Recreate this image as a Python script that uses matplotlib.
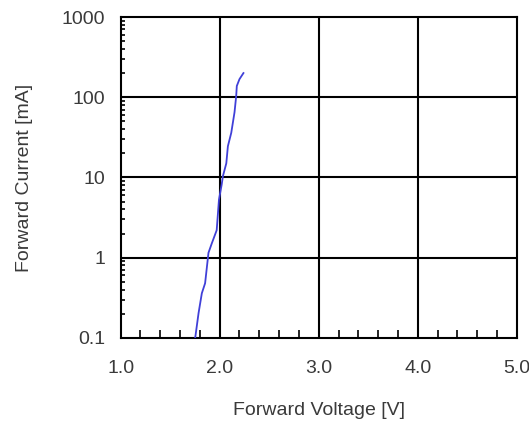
import matplotlib
matplotlib.use('Agg')
import matplotlib.pyplot as plt
from matplotlib.ticker import FixedLocator, LogLocator, NullFormatter

# Datos (V, mA)
voltage = [1.753, 1.787, 1.82, 1.853, 1.887, 1.92, 1.97, 1.993, 2.02, 2.033,
           2.067, 2.083, 2.117, 2.15, 2.167, 2.173, 2.2, 2.24]
current = [0.1, 0.204, 0.36, 0.48, 1.15, 1.5, 2.2, 5.3, 8.1, 10.4,
           15, 24.5, 36, 65, 104, 138, 168, 200]

x_ticks = [1.0, 2.0, 3.0, 4.0, 5.0]
x_labels = ['1.0', '2.0', '3.0', '4.0', '5.0']
y_ticks = [0.1, 1, 10, 100, 1000]
y_labels = ['0.1', '1', '10', '100', '1000']

plt.rcParams['font.family'] = ['Liberation Sans', 'DejaVu Sans']
txt = '#3a3a3a'

fig = plt.figure(figsize=(5.29, 4.25), dpi=100)
ax = fig.add_axes([0.228, 0.205, 0.749, 0.755])

ax.set_yscale('log')
ax.set_xlim(1.0, 5.0)
ax.set_ylim(0.1, 1000)

# Rejilla en los valores principales
for v in x_ticks[1:-1]:
    ax.axvline(v, color='black', lw=1.5, zorder=1)
for v in y_ticks[1:-1]:
    ax.axhline(v, color='black', lw=1.5, zorder=1)

ax.plot(voltage, current, color='#4040d8', lw=1.3, zorder=3)

for s in ax.spines.values():
    s.set_linewidth(1.5)
    s.set_color('black')

ax.xaxis.set_major_locator(FixedLocator(x_ticks))
ax.set_xticklabels(x_labels)
ax.xaxis.set_minor_locator(FixedLocator([1 + 0.2 * i for i in range(1, 20) if i % 5 != 0]))
ax.yaxis.set_major_locator(FixedLocator(y_ticks))
ax.set_yticklabels(y_labels)
ax.yaxis.set_minor_locator(LogLocator(base=10, subs=range(2, 10)))
ax.yaxis.set_minor_formatter(NullFormatter())

ax.tick_params(axis='x', which='major', direction='in', length=0, pad=16,
               labelsize=14, labelcolor=txt)
ax.tick_params(axis='x', which='minor', direction='in', length=6, width=1.2)
ax.tick_params(axis='y', which='major', direction='in', length=0, pad=11,
               labelsize=14, labelcolor=txt)
ax.tick_params(axis='y', which='minor', direction='in', length=3, width=1.2)

ax.set_xlabel('Forward Voltage [V]', fontsize=14, color=txt, labelpad=18)
ax.set_ylabel('Forward Current [mA]', fontsize=14, color=txt, labelpad=21)

plt.savefig('out.png', dpi=100)
